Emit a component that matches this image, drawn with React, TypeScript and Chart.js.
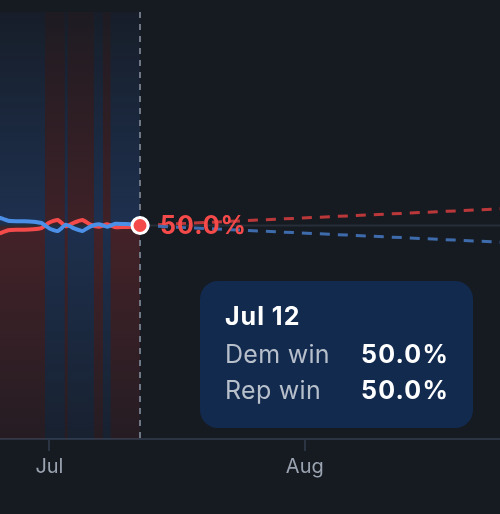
import React, { useEffect, useRef } from "react";
import { Chart, registerables } from "chart.js";

Chart.register(...registerables);

// Days counted from Jul 1 (0 = Jul 1)
const histDays = [-6, -5, -4, -3, -2, -1, 0, 1, 2, 3, 4, 5, 6, 7, 8, 9, 10, 11];
const demWin = [51.8, 51.1, 51.0, 51.0, 50.9, 50.6, 49.3, 48.7, 50.2, 49.3, 48.7, 49.8, 50.3, 49.7, 50.4, 50.35, 50.3, 50.0];
const repWin = [48.2, 48.9, 49.0, 49.0, 49.1, 49.4, 50.7, 51.3, 49.8, 50.7, 51.3, 50.2, 49.7, 50.3, 49.6, 49.65, 49.7, 50.0];

const projDays = [11, 54.7];
const demProj = [50.0, 46.1];
const repProj = [50.0, 53.9];

const tickDays = [0, 31];
const tickLabels = ["Jul", "Aug"];

const xMin = -6;
const xMax = 54.7;

const BG = "#161a21";
const BLUE = "#4b8fe6";
const RED = "#f44a4a";
const BLUE_RGB = "59,130,246";
const RED_RGB = "239,68,68";

function dayLabel(d: number) {
  if (d >= 31) return "Aug " + (d - 30);
  if (d >= 0) return "Jul " + (d + 1);
  return "Jun " + (30 + d);
}

const decor = {
  id: "decor",
  beforeDatasetsDraw(chart: any) {
    const { ctx, chartArea } = chart;
    const xs = chart.scales.x;
    const ys = chart.scales.y;
    const yMid = ys.getPixelForValue(50);
    // leader bands
    const segs: { s: number; e: number; d: boolean }[] = [];
    let start = histDays[0];
    let lead = demWin[0] >= repWin[0];
    for (let i = 1; i < histDays.length; i++) {
      const a = demWin[i - 1] - repWin[i - 1];
      const b = demWin[i] - repWin[i];
      if (a * b < 0) {
        const t = a / (a - b);
        const c = histDays[i - 1] + t * (histDays[i] - histDays[i - 1]);
        segs.push({ s: start, e: c, d: lead });
        start = c;
        lead = b > 0;
      }
    }
    segs.push({ s: start, e: histDays[histDays.length - 1], d: lead });
    ctx.save();
    for (const sg of segs) {
      const x0 = Math.max(chartArea.left, xs.getPixelForValue(sg.s));
      const x1 = xs.getPixelForValue(sg.e);
      const upC = sg.d ? BLUE_RGB : RED_RGB;
      const dnC = sg.d ? RED_RGB : BLUE_RGB;
      const gUp = ctx.createLinearGradient(0, chartArea.top, 0, yMid);
      gUp.addColorStop(0, `rgba(${upC},0.04)`);
      gUp.addColorStop(1, `rgba(${upC},${sg.d ? 0.22 : 0.19})`);
      ctx.fillStyle = gUp;
      ctx.fillRect(x0, chartArea.top, x1 - x0, yMid - chartArea.top);
      const gDn = ctx.createLinearGradient(0, yMid, 0, chartArea.bottom);
      gDn.addColorStop(0, `rgba(${dnC},0.21)`);
      gDn.addColorStop(1, `rgba(${dnC},0.07)`);
      ctx.fillStyle = gDn;
      ctx.fillRect(x0, yMid, x1 - x0, chartArea.bottom - yMid);
    }
    // 50% line
    ctx.strokeStyle = "#272e39";
    ctx.lineWidth = 2;
    ctx.beginPath();
    ctx.moveTo(chartArea.left, yMid);
    ctx.lineTo(chartArea.right, yMid);
    ctx.stroke();
    // today dashed line
    const xt = Math.round(xs.getPixelForValue(histDays[histDays.length - 1]));
    ctx.strokeStyle = "#6f7784";
    ctx.setLineDash([6, 6]);
    ctx.beginPath();
    ctx.moveTo(xt, chartArea.top);
    ctx.lineTo(xt, chartArea.bottom);
    ctx.stroke();
    ctx.restore();
  },
  afterDatasetsDraw(chart: any) {
    const { ctx } = chart;
    const xs = chart.scales.x;
    const ys = chart.scales.y;
    const n = histDays.length - 1;
    const px = xs.getPixelForValue(histDays[n]);
    const py = ys.getPixelForValue(repWin[n]);
    ctx.save();
    ctx.beginPath();
    ctx.arc(px, py, 8, 0, Math.PI * 2);
    ctx.fillStyle = RED;
    ctx.fill();
    ctx.lineWidth = 3;
    ctx.strokeStyle = "#ffffff";
    ctx.stroke();
    ctx.font = "bold 25px Inter";
    (ctx as any).letterSpacing = "1px";
    ctx.fillStyle = RED;
    ctx.textBaseline = "middle";
    ctx.textAlign = "left";
    ctx.fillText(repWin[n].toFixed(1) + "%", px + 20, py + 1);
    ctx.restore();
  },
  afterDraw(chart: any) {
    const { ctx } = chart;
    const n = histDays.length - 1;
    const bx = 200, by = 281, bw = 273, bh = 147;
    ctx.save();
    ctx.beginPath();
    ctx.roundRect(bx, by, bw, bh, 18);
    ctx.fillStyle = "#132a4f";
    ctx.fill();
    ctx.textBaseline = "alphabetic";
    ctx.textAlign = "left";
    ctx.fillStyle = "#ffffff";
    ctx.font = "bold 25px Inter";
    (ctx as any).letterSpacing = "1px";
    ctx.fillText(dayLabel(histDays[n]), bx + 25, by + 44);
    ctx.font = "25px Inter";
    (ctx as any).letterSpacing = "0.3px";
    ctx.fillStyle = "#b7bfcb";
    ctx.fillText("Dem win", bx + 25, by + 82);
    ctx.fillText("Rep win", bx + 25, by + 118);
    ctx.font = "bold 25px Inter";
    (ctx as any).letterSpacing = "1.2px";
    ctx.fillStyle = "#ffffff";
    ctx.textAlign = "right";
    ctx.fillText(demWin[n].toFixed(1) + "%", bx + 249, by + 82);
    ctx.fillText(repWin[n].toFixed(1) + "%", bx + 249, by + 118);
    ctx.restore();
  },
};

export default function App() {
  const ref = useRef<HTMLCanvasElement>(null);
  useEffect(() => {
    document.body.style.margin = "0";
    document.body.style.background = BG;
    const canvas = ref.current!;
    const chart = new Chart(canvas, {
      type: "line",
      data: {
        datasets: [
          {
            data: projDays.map((d, i) => ({ x: d, y: demProj[i] })),
            borderColor: "rgba(64,112,180,0.95)",
            borderWidth: 3,
            borderDash: [10, 8],
            pointRadius: 0,
          },
          {
            data: projDays.map((d, i) => ({ x: d, y: repProj[i] })),
            borderColor: "rgba(196,58,60,0.95)",
            borderWidth: 3,
            borderDash: [10, 8],
            pointRadius: 0,
          },
          {
            data: histDays.map((d, i) => ({ x: d, y: demWin[i] })),
            borderColor: BLUE,
            borderWidth: 4,
            pointRadius: 0,
            borderJoinStyle: "round",
            borderCapStyle: "round",
            tension: 0.15,
          },
          {
            data: histDays.map((d, i) => ({ x: d, y: repWin[i] })),
            borderColor: RED,
            borderWidth: 4,
            pointRadius: 0,
            borderJoinStyle: "round",
            borderCapStyle: "round",
            tension: 0.15,
          },
        ],
      },
      options: {
        responsive: false,
        animation: false,
        devicePixelRatio: 1,
        layout: { padding: { top: 12, left: 0, right: 0, bottom: 0 } },
        plugins: { legend: { display: false }, tooltip: { enabled: false } },
        scales: {
          x: {
            type: "linear",
            min: xMin,
            max: xMax,
            afterBuildTicks: (s: any) => {
              s.ticks = tickDays.map((v) => ({ value: v }));
            },
            afterFit: (s: any) => {
              s.height = 75;
            },
            ticks: {
              autoSkip: false,
              maxRotation: 0,
              padding: 4,
              color: "#9aa3b0",
              font: { family: "Inter", size: 20 },
              callback: (v: any) => tickLabels[tickDays.indexOf(Number(v))] ?? "",
            },
            grid: {
              drawOnChartArea: false,
              drawTicks: true,
              tickLength: 12,
              color: "#2b3442",
              lineWidth: 2,
            },
            border: { display: true, color: "#2b3442", width: 2 },
          },
          y: { display: false, min: 0, max: 100 },
        },
      },
      plugins: [decor],
    } as any);
    return () => chart.destroy();
  }, []);
  return (
    <div style={{ width: 500, height: 514, background: BG }}>
      <canvas ref={ref} width={500} height={514} style={{ display: "block" }} />
    </div>
  );
}
